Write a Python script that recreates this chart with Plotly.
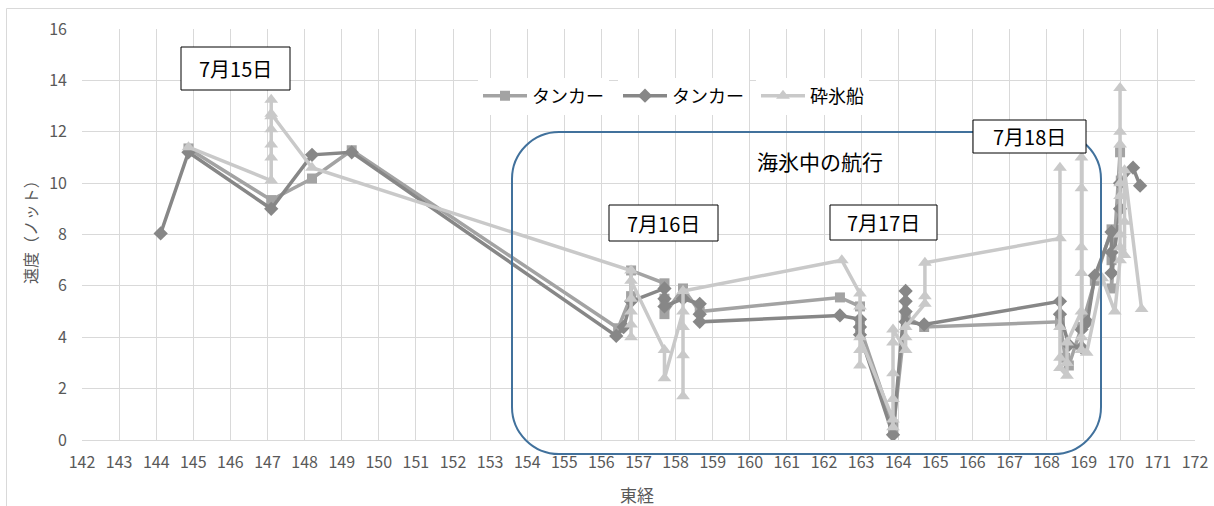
import plotly.graph_objects as go

# --- data ---
tanker1_lon = [144.87, 147.1, 148.2, 149.27, 156.45, 156.8, 156.8, 157.7, 157.7, 157.7,
               158.2, 158.65, 162.43, 162.97, 162.97, 163.86, 163.86, 164.2, 164.7,
               168.36, 168.5, 168.6, 168.94, 169.3, 169.75, 169.75, 169.75, 169.98, 169.98, 170.0]
tanker1_speed = [11.35, 9.34, 10.18, 11.28, 4.35, 5.6, 6.6, 6.1, 5.5, 4.9,
                 5.9, 5.0, 5.55, 5.2, 4.4, 0.6, 0.3, 4.8, 4.4,
                 4.6, 3.2, 2.9, 4.4, 6.2, 8.2, 7.0, 5.9, 11.2, 9.0, 10.1]

tanker2_lon = [144.12, 144.87, 147.1, 148.2, 149.27, 156.4, 156.6, 156.8, 157.7, 157.7, 157.7,
               158.2, 158.65, 158.65, 158.65, 162.43, 162.97, 162.97, 162.97, 163.86,
               164.2, 164.2, 164.2, 164.2, 164.7, 168.36, 168.36, 168.6, 168.94, 168.94,
               169.1, 169.3, 169.75, 169.75, 169.75, 169.98, 169.98, 170.33, 170.52]
tanker2_speed = [8.04, 11.2, 9.0, 11.1, 11.2, 4.05, 4.4, 5.4, 5.9, 5.5, 5.2,
                 5.5, 5.3, 4.9, 4.6, 4.85, 4.7, 4.4, 4.1, 0.2,
                 5.8, 5.4, 5.0, 4.6, 4.5, 5.4, 4.9, 3.7, 3.6, 4.3,
                 4.6, 6.4, 8.1, 7.3, 6.5, 9.0, 10.0, 10.6, 9.9]

icebreaker_lon = [144.87, 147.1, 147.1, 147.1, 147.1, 147.1, 147.1, 147.1, 148.2,
                  156.8, 156.8, 156.8, 156.8, 156.8, 156.8, 157.7, 157.7,
                  158.2, 158.2, 158.2, 158.2, 158.2, 162.48,
                  162.97, 162.97, 162.97, 162.97, 162.97,
                  163.86, 163.86, 163.86, 163.86, 163.86, 163.86,
                  164.2, 164.2, 164.2, 164.72, 164.72, 164.72,
                  168.36, 168.36, 168.36, 168.36, 168.36, 168.55, 168.55, 168.55,
                  168.94, 168.94, 168.94, 168.94, 168.94, 168.94, 168.94, 169.08, 169.5,
                  169.84, 169.98, 169.98, 169.98, 169.98, 169.98, 169.98, 169.98, 169.98,
                  170.1, 170.1, 170.1, 170.56]
icebreaker_speed = [11.4, 10.1, 11.0, 11.5, 12.1, 12.6, 13.25, 12.7, 10.6,
                    6.6, 4.0, 4.5, 5.0, 5.5, 6.2, 3.5, 2.4,
                    5.0, 1.7, 3.3, 4.4, 5.8, 7.0,
                    5.7, 5.2, 3.5, 2.9, 4.0,
                    0.8, 0.5, 1.6, 2.6, 3.8, 4.3,
                    3.5, 4.0, 4.4, 5.3, 5.6, 6.9,
                    7.85, 10.6, 4.4, 3.2, 2.8, 2.5, 3.0, 3.8,
                    5.0, 7.5, 9.8, 11.0, 6.5, 4.0, 3.5, 3.4, 6.3,
                    5.0, 7.0, 9.5, 11.5, 13.7, 12.0, 10.0, 8.0, 7.5,
                    7.2, 8.5, 10.5, 5.1]

series_names = ["タンカー", "タンカー", "砕氷船"]
date_labels = ["7月15日", "7月16日", "7月17日", "7月18日"]
region_label = "海氷中の航行"
x_title = "東経"
y_title = "速度（ノット）"

# --- layout helpers: plot area in page pixels ---
L, R, T, B = 82, 1195, 29, 440
W, H = 1214, 506


def px(x):
    return (x - L) / (R - L)


def py(y):
    return (B - y) / (B - T)


JP = "Noto Sans CJK JP, Noto Sans, sans-serif"

fig = go.Figure()
fig.add_trace(go.Scatter(
    x=tanker1_lon, y=tanker1_speed, name=series_names[0], mode="lines+markers",
    line=dict(color="#A3A3A3", width=3.5), legend="legend",
    marker=dict(symbol="square", size=10, color="#A3A3A3")))
fig.add_trace(go.Scatter(
    x=tanker2_lon, y=tanker2_speed, name=series_names[1], mode="lines+markers",
    line=dict(color="#878787", width=3.5), legend="legend2",
    marker=dict(symbol="diamond", size=11, color="#878787")))
fig.add_trace(go.Scatter(
    x=icebreaker_lon, y=icebreaker_speed, name=series_names[2], mode="lines+markers",
    line=dict(color="#C9C9C9", width=3.5), legend="legend3",
    marker=dict(symbol="triangle-up", size=12, color="#C9C9C9")))

shapes = []
# chart area frame
shapes.append(dict(type="rect", xref="paper", yref="paper",
                   x0=px(6.5), x1=px(1240), y0=py(530), y1=py(8.5),
                   line=dict(color="#D9D9D9", width=1), layer="below"))
# white backdrop behind the legend (hides gridlines)
shapes.append(dict(type="rect", xref="paper", yref="paper",
                   x0=px(470), x1=px(905), y0=py(112), y1=py(80),
                   fillcolor="white", line=dict(width=0), layer="between"))

# rounded box "sea ice"
x0, x1, y0, y1, r = px(512), px(1101), py(454), py(132), 47
rx, ry = r / (R - L), r / (B - T)
k = 0.45
path = (f"M {x0 + rx},{y1} L {x1 - rx},{y1} "
        f"C {x1 - rx * k},{y1} {x1},{y1 - ry * k} {x1},{y1 - ry} "
        f"L {x1},{y0 + ry} "
        f"C {x1},{y0 + ry * k} {x1 - rx * k},{y0} {x1 - rx},{y0} "
        f"L {x0 + rx},{y0} "
        f"C {x0 + rx * k},{y0} {x0},{y0 + ry * k} {x0},{y0 + ry} "
        f"L {x0},{y1 - ry} "
        f"C {x0},{y1 - ry * k} {x0 + rx * k},{y1} {x0 + rx},{y1} Z")
shapes.append(dict(type="path", xref="paper", yref="paper", path=path,
                   line=dict(color="#41719C", width=2), layer="above"))

# date boxes
boxes = [(181, 290, 47, 90), (609, 718, 205, 241), (830, 937, 205, 240), (973, 1086, 120, 153)]
annotations = []
for (bx0, bx1, by0, by1), label in zip(boxes, date_labels):
    shapes.append(dict(type="rect", xref="paper", yref="paper",
                       x0=px(bx0), x1=px(bx1), y0=py(by1), y1=py(by0),
                       fillcolor="white", line=dict(color="black", width=1), layer="above"))
    annotations.append(dict(xref="paper", yref="paper", x=px((bx0 + bx1) / 2),
                            y=py((by0 + by1) / 2), xanchor="center", yanchor="middle",
                            text=label, showarrow=False,
                            font=dict(family=JP, size=20, color="black")))

annotations.append(dict(xref="paper", yref="paper", x=px(820), y=py(161),
                        xanchor="center", yanchor="middle",
                        text=region_label, showarrow=False,
                        font=dict(family=JP, size=21, color="black")))
# axis titles
annotations.append(dict(xref="paper", yref="paper", x=px(637), y=py(494),
                        xanchor="center", yanchor="middle", text=x_title, showarrow=False,
                        font=dict(family=JP, size=17, color="#595959")))
annotations.append(dict(xref="paper", yref="paper", x=px(30), y=py(228),
                        xanchor="center", yanchor="middle", text=y_title, showarrow=False,
                        textangle=-90, font=dict(family=JP, size=16, color="#595959")))

legend_style = dict(orientation="h", yanchor="middle", xanchor="left", y=py(96),
                    bgcolor="white", itemwidth=44,
                    font=dict(family=JP, size=18, color="black"))

fig.update_layout(
    width=W, height=H, showlegend=True,
    margin=dict(l=L, r=W - R, t=T, b=H - B, autoexpand=False),
    paper_bgcolor="white", plot_bgcolor="white",
    font=dict(family=JP, color="#595959"),
    shapes=shapes, annotations=annotations,
    legend=dict(legend_style, x=px(478)),
    legend2=dict(legend_style, x=px(618)),
    legend3=dict(legend_style, x=px(756)),
    xaxis=dict(range=[142, 172], dtick=1, tick0=142, showgrid=True, gridcolor="#D9D9D9",
               gridwidth=1, showline=True, linecolor="#D9D9D9", zeroline=False,
               ticks="", ticklabelstandoff=8, automargin=False, ticklabeloverflow="allow",
               tickfont=dict(family=JP, size=16, color="#595959")),
    yaxis=dict(range=[0, 16], dtick=2, showgrid=True, gridcolor="#D9D9D9", gridwidth=1,
               showline=False, zeroline=False, ticks="", ticklabelstandoff=14,
               automargin=False,
               tickfont=dict(family=JP, size=16, color="#595959")),
)

# the page body has a default 8px margin; remove it so the figure fills the window
fig.write_html("out.html", config={"displayModeBar": False},
               post_script="document.body.style.margin='0';")
